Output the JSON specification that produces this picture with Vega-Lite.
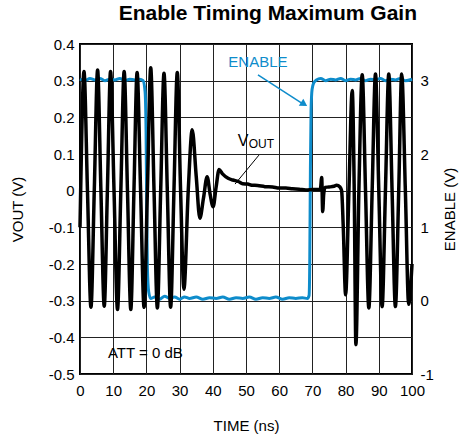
{
  "$schema": "https://vega.github.io/schema/vega-lite/v6.json",
  "width": 332,
  "height": 330,
  "autosize": {"type": "none"},
  "padding": {"left": 80, "top": 44, "right": 49, "bottom": 62},
  "background": "white",
  "title": {
    "text": "Enable Timing Maximum Gain",
    "anchor": "end",
    "frame": "group",
    "font": "Liberation Sans",
    "fontSize": 21,
    "fontWeight": "bold",
    "color": "black",
    "offset": 13,
    "dx": 5
  },
  "datasets": {
    "enable": [
      {"t": 0, "e": 3.02}, {"t": 1.5, "e": 3.0}, {"t": 3, "e": 3.03}, {"t": 4.5, "e": 3.01},
      {"t": 6, "e": 3.03}, {"t": 7.5, "e": 3.0}, {"t": 9, "e": 3.02}, {"t": 10.5, "e": 3.01},
      {"t": 12, "e": 3.03}, {"t": 13.5, "e": 3.0}, {"t": 15, "e": 3.02}, {"t": 16.5, "e": 3.01},
      {"t": 18, "e": 3.02}, {"t": 19.0, "e": 3.0}, {"t": 19.6, "e": 2.85}, {"t": 19.9, "e": 2.3},
      {"t": 20.1, "e": 1.2}, {"t": 20.3, "e": 0.45}, {"t": 20.7, "e": 0.12}, {"t": 21.3, "e": 0.03},
      {"t": 22.5, "e": 0.05}, {"t": 24, "e": 0.02}, {"t": 25.5, "e": 0.06}, {"t": 27, "e": 0.03},
      {"t": 28.5, "e": 0.05}, {"t": 30, "e": 0.02}, {"t": 31.5, "e": 0.05}, {"t": 33, "e": 0.03},
      {"t": 35, "e": 0.05}, {"t": 37, "e": 0.02}, {"t": 39, "e": 0.04}, {"t": 41, "e": 0.03},
      {"t": 43, "e": 0.05}, {"t": 45, "e": 0.02}, {"t": 47, "e": 0.04}, {"t": 49, "e": 0.03},
      {"t": 51, "e": 0.05}, {"t": 53, "e": 0.02}, {"t": 55, "e": 0.04}, {"t": 57, "e": 0.03},
      {"t": 59, "e": 0.05}, {"t": 61, "e": 0.02}, {"t": 63, "e": 0.04}, {"t": 65, "e": 0.03},
      {"t": 67, "e": 0.04}, {"t": 68.5, "e": 0.03}, {"t": 69.0, "e": 0.07}, {"t": 69.2, "e": 0.5},
      {"t": 69.4, "e": 1.8}, {"t": 69.6, "e": 2.6}, {"t": 69.9, "e": 2.88}, {"t": 70.4, "e": 2.97},
      {"t": 71.2, "e": 3.01}, {"t": 72.5, "e": 3.03}, {"t": 74, "e": 3.0}, {"t": 75.5, "e": 3.02},
      {"t": 77, "e": 3.01}, {"t": 78.5, "e": 3.03}, {"t": 80, "e": 3.0}, {"t": 81.5, "e": 3.02},
      {"t": 83, "e": 3.01}, {"t": 84.5, "e": 3.03}, {"t": 86, "e": 3.0}, {"t": 87.5, "e": 3.02},
      {"t": 89, "e": 3.01}, {"t": 90.5, "e": 3.03}, {"t": 92, "e": 3.0}, {"t": 93.5, "e": 3.02},
      {"t": 95, "e": 3.01}, {"t": 96.5, "e": 3.03}, {"t": 98, "e": 3.0}, {"t": 100, "e": 3.02}
    ],
    "vout": [
      {"t": 0, "v": -0.1}, {"t": 0.2, "v": 0}, {"t": 1.2, "v": 0.325}, {"t": 2.25, "v": 0},
      {"t": 3.3, "v": -0.318}, {"t": 4.3, "v": 0}, {"t": 5.3, "v": 0.329}, {"t": 6.3, "v": 0},
      {"t": 7.3, "v": -0.315}, {"t": 8.25, "v": 0}, {"t": 9.2, "v": 0.325}, {"t": 10.25, "v": 0},
      {"t": 11.3, "v": -0.324}, {"t": 12.3, "v": 0}, {"t": 13.3, "v": 0.325}, {"t": 14.3, "v": 0},
      {"t": 15.3, "v": -0.324}, {"t": 16.25, "v": 0}, {"t": 17.2, "v": 0.322}, {"t": 18.25, "v": 0},
      {"t": 19.3, "v": -0.318}, {"t": 20.3, "v": 0}, {"t": 21.3, "v": 0.335}, {"t": 22.3, "v": 0},
      {"t": 23.3, "v": -0.32}, {"t": 24.3, "v": 0}, {"t": 25.3, "v": 0.32}, {"t": 26.3, "v": 0},
      {"t": 27.3, "v": -0.318}, {"t": 28.3, "v": 0}, {"t": 29.3, "v": 0.322}, {"t": 30.3, "v": 0},
      {"t": 31.3, "v": -0.269}, {"t": 32.6, "v": 0}, {"t": 33.8, "v": 0.166}, {"t": 35.0, "v": 0.04},
      {"t": 36.1, "v": -0.075}, {"t": 37.2, "v": -0.02}, {"t": 38.3, "v": 0.038}, {"t": 39.2, "v": -0.01},
      {"t": 40.1, "v": -0.044}, {"t": 41.0, "v": 0.01}, {"t": 41.9, "v": 0.058}, {"t": 43.0, "v": 0.045},
      {"t": 44.6, "v": 0.034}, {"t": 46, "v": 0.029}, {"t": 47.7, "v": 0.025}, {"t": 49, "v": 0.019},
      {"t": 50.5, "v": 0.018}, {"t": 51.7, "v": 0.015}, {"t": 53.5, "v": 0.014}, {"t": 55.7, "v": 0.011},
      {"t": 58, "v": 0.01}, {"t": 60, "v": 0.007}, {"t": 62, "v": 0.007}, {"t": 64, "v": 0.005},
      {"t": 66, "v": 0.004}, {"t": 68, "v": 0.002}, {"t": 70, "v": 0.003}, {"t": 72.4, "v": 0.004},
      {"t": 72.8, "v": 0.036}, {"t": 73.1, "v": -0.057}, {"t": 73.4, "v": -0.01}, {"t": 73.8, "v": 0.009},
      {"t": 75, "v": 0.01}, {"t": 76.5, "v": 0.012}, {"t": 77.3, "v": 0.015}, {"t": 78.3, "v": 0.01},
      {"t": 78.8, "v": 0.0}, {"t": 79.3, "v": -0.1}, {"t": 80.0, "v": -0.284}, {"t": 81.0, "v": 0},
      {"t": 82.0, "v": 0.273}, {"t": 82.6, "v": 0}, {"t": 83.1, "v": -0.42}, {"t": 84.0, "v": 0},
      {"t": 85.0, "v": 0.316}, {"t": 86.0, "v": 0}, {"t": 87.0, "v": -0.32}, {"t": 88.0, "v": 0},
      {"t": 89.0, "v": 0.318}, {"t": 90.0, "v": 0}, {"t": 91.0, "v": -0.316}, {"t": 92.0, "v": 0},
      {"t": 93.0, "v": 0.318}, {"t": 94.0, "v": 0}, {"t": 95.0, "v": -0.316}, {"t": 96.0, "v": 0},
      {"t": 96.9, "v": 0.318}, {"t": 98.0, "v": 0}, {"t": 99.0, "v": -0.31}, {"t": 100, "v": -0.2}
    ]
  },
  "layer": [
    {
      "data": {"name": "enable"},
      "mark": {"type": "line", "color": "#0e8ccb", "strokeWidth": 3, "interpolate": "monotone"},
      "encoding": {
        "x": {
          "field": "t", "type": "quantitative",
          "scale": {"domain": [0, 100], "nice": false},
          "axis": {
            "values": [0, 10, 20, 30, 40, 50, 60, 70, 80, 90, 100], "tickCount": 50,
            "title": "TIME (ns)", "grid": true, "labelPadding": 9, "titlePadding": 20,
            "labelFlush": false, "labelOverlap": false
          }
        },
        "y": {
          "field": "e", "type": "quantitative",
          "scale": {"domain": [-1, 3.5], "nice": false, "zero": false},
          "axis": {
            "orient": "right", "values": [-1, 0, 1, 2, 3], "tickCount": 50, "grid": false,
            "title": "ENABLE (V)", "titleAngle": 270, "labelPadding": 8, "titlePadding": 24,
            "labelOverlap": false,
            "labelExpr": "replace(format(datum.value, '~f'), '\u2212', '-')"
          }
        }
      }
    },
    {
      "layer": [
        {
          "data": {"name": "vout"},
          "mark": {"type": "line", "color": "black", "strokeWidth": 3.5, "interpolate": "monotone"},
          "encoding": {
            "x": {"field": "t", "type": "quantitative"},
            "y": {
              "field": "v", "type": "quantitative",
              "scale": {"domain": [-0.5, 0.4], "nice": false, "zero": false},
              "axis": {
                "values": [-0.5, -0.4, -0.3, -0.2, -0.1, 0, 0.1, 0.2, 0.3, 0.4], "tickCount": 50,
                "grid": true, "title": "VOUT (V)", "labelPadding": 6, "titlePadding": 23,
                "labelOverlap": false,
                "labelExpr": "replace(format(datum.value, '.1~f'), '\u2212', '-')"
              }
            }
          }
        },
        {
          "data": {"values": [{"t": 53.6, "v": 0.316, "t2": 67.6, "v2": 0.234}]},
          "mark": {"type": "rule", "color": "#0e8ccb", "strokeWidth": 1.5},
          "encoding": {
            "x": {"field": "t", "type": "quantitative"},
            "y": {"field": "v", "type": "quantitative"},
            "x2": {"field": "t2"},
            "y2": {"field": "v2"}
          }
        },
        {
          "data": {"values": [{"t": 67.5, "v": 0.236}]},
          "mark": {"type": "point", "shape": "triangle-right", "filled": true, "color": "#0e8ccb", "opacity": 1, "size": 70, "angle": 33},
          "encoding": {
            "x": {"field": "t", "type": "quantitative"},
            "y": {"field": "v", "type": "quantitative"}
          }
        },
        {
          "data": {"values": [{"t": 53.9, "v": 0.097, "t2": 46.7, "v2": 0.018}]},
          "mark": {"type": "rule", "color": "black", "strokeWidth": 1},
          "encoding": {
            "x": {"field": "t", "type": "quantitative"},
            "y": {"field": "v", "type": "quantitative"},
            "x2": {"field": "t2"},
            "y2": {"field": "v2"}
          }
        },
        {
          "data": {"values": [{"t": 53.6, "v": 0.351, "label": "ENABLE"}]},
          "mark": {"type": "text", "color": "#0e8ccb", "font": "Liberation Sans", "fontSize": 15, "align": "center", "baseline": "middle"},
          "encoding": {
            "x": {"field": "t", "type": "quantitative"},
            "y": {"field": "v", "type": "quantitative"},
            "text": {"field": "label"}
          }
        },
        {
          "data": {"values": [{"t": 47.5, "v": 0.135, "label": "V"}]},
          "mark": {"type": "text", "color": "black", "font": "Liberation Sans", "fontSize": 16, "align": "left", "baseline": "middle"},
          "encoding": {
            "x": {"field": "t", "type": "quantitative"},
            "y": {"field": "v", "type": "quantitative"},
            "text": {"field": "label"}
          }
        },
        {
          "data": {"values": [{"t": 50.8, "v": 0.126, "label": "OUT"}]},
          "mark": {"type": "text", "color": "black", "font": "Liberation Sans", "fontSize": 12, "align": "left", "baseline": "middle"},
          "encoding": {
            "x": {"field": "t", "type": "quantitative"},
            "y": {"field": "v", "type": "quantitative"},
            "text": {"field": "label"}
          }
        },
        {
          "data": {"values": [{"t": 19.7, "v": -0.444, "label": "ATT = 0 dB"}]},
          "mark": {"type": "text", "color": "black", "font": "Liberation Sans", "fontSize": 15, "align": "center", "baseline": "middle"},
          "encoding": {
            "x": {"field": "t", "type": "quantitative"},
            "y": {"field": "v", "type": "quantitative"},
            "text": {"field": "label"}
          }
        }
      ]
    }
  ],
  "resolve": {"scale": {"y": "independent"}},
  "config": {
    "font": "Liberation Sans",
    "view": {"stroke": "black", "strokeWidth": 2},
    "axis": {
      "labelFont": "Liberation Sans", "titleFont": "Liberation Sans",
      "labelFontSize": 15, "titleFontSize": 15,
      "labelColor": "black", "titleColor": "black", "titleFontWeight": "normal",
      "gridColor": "#222", "gridWidth": 1, "gridOpacity": 1,
      "ticks": false, "domain": false
    }
  }
}
